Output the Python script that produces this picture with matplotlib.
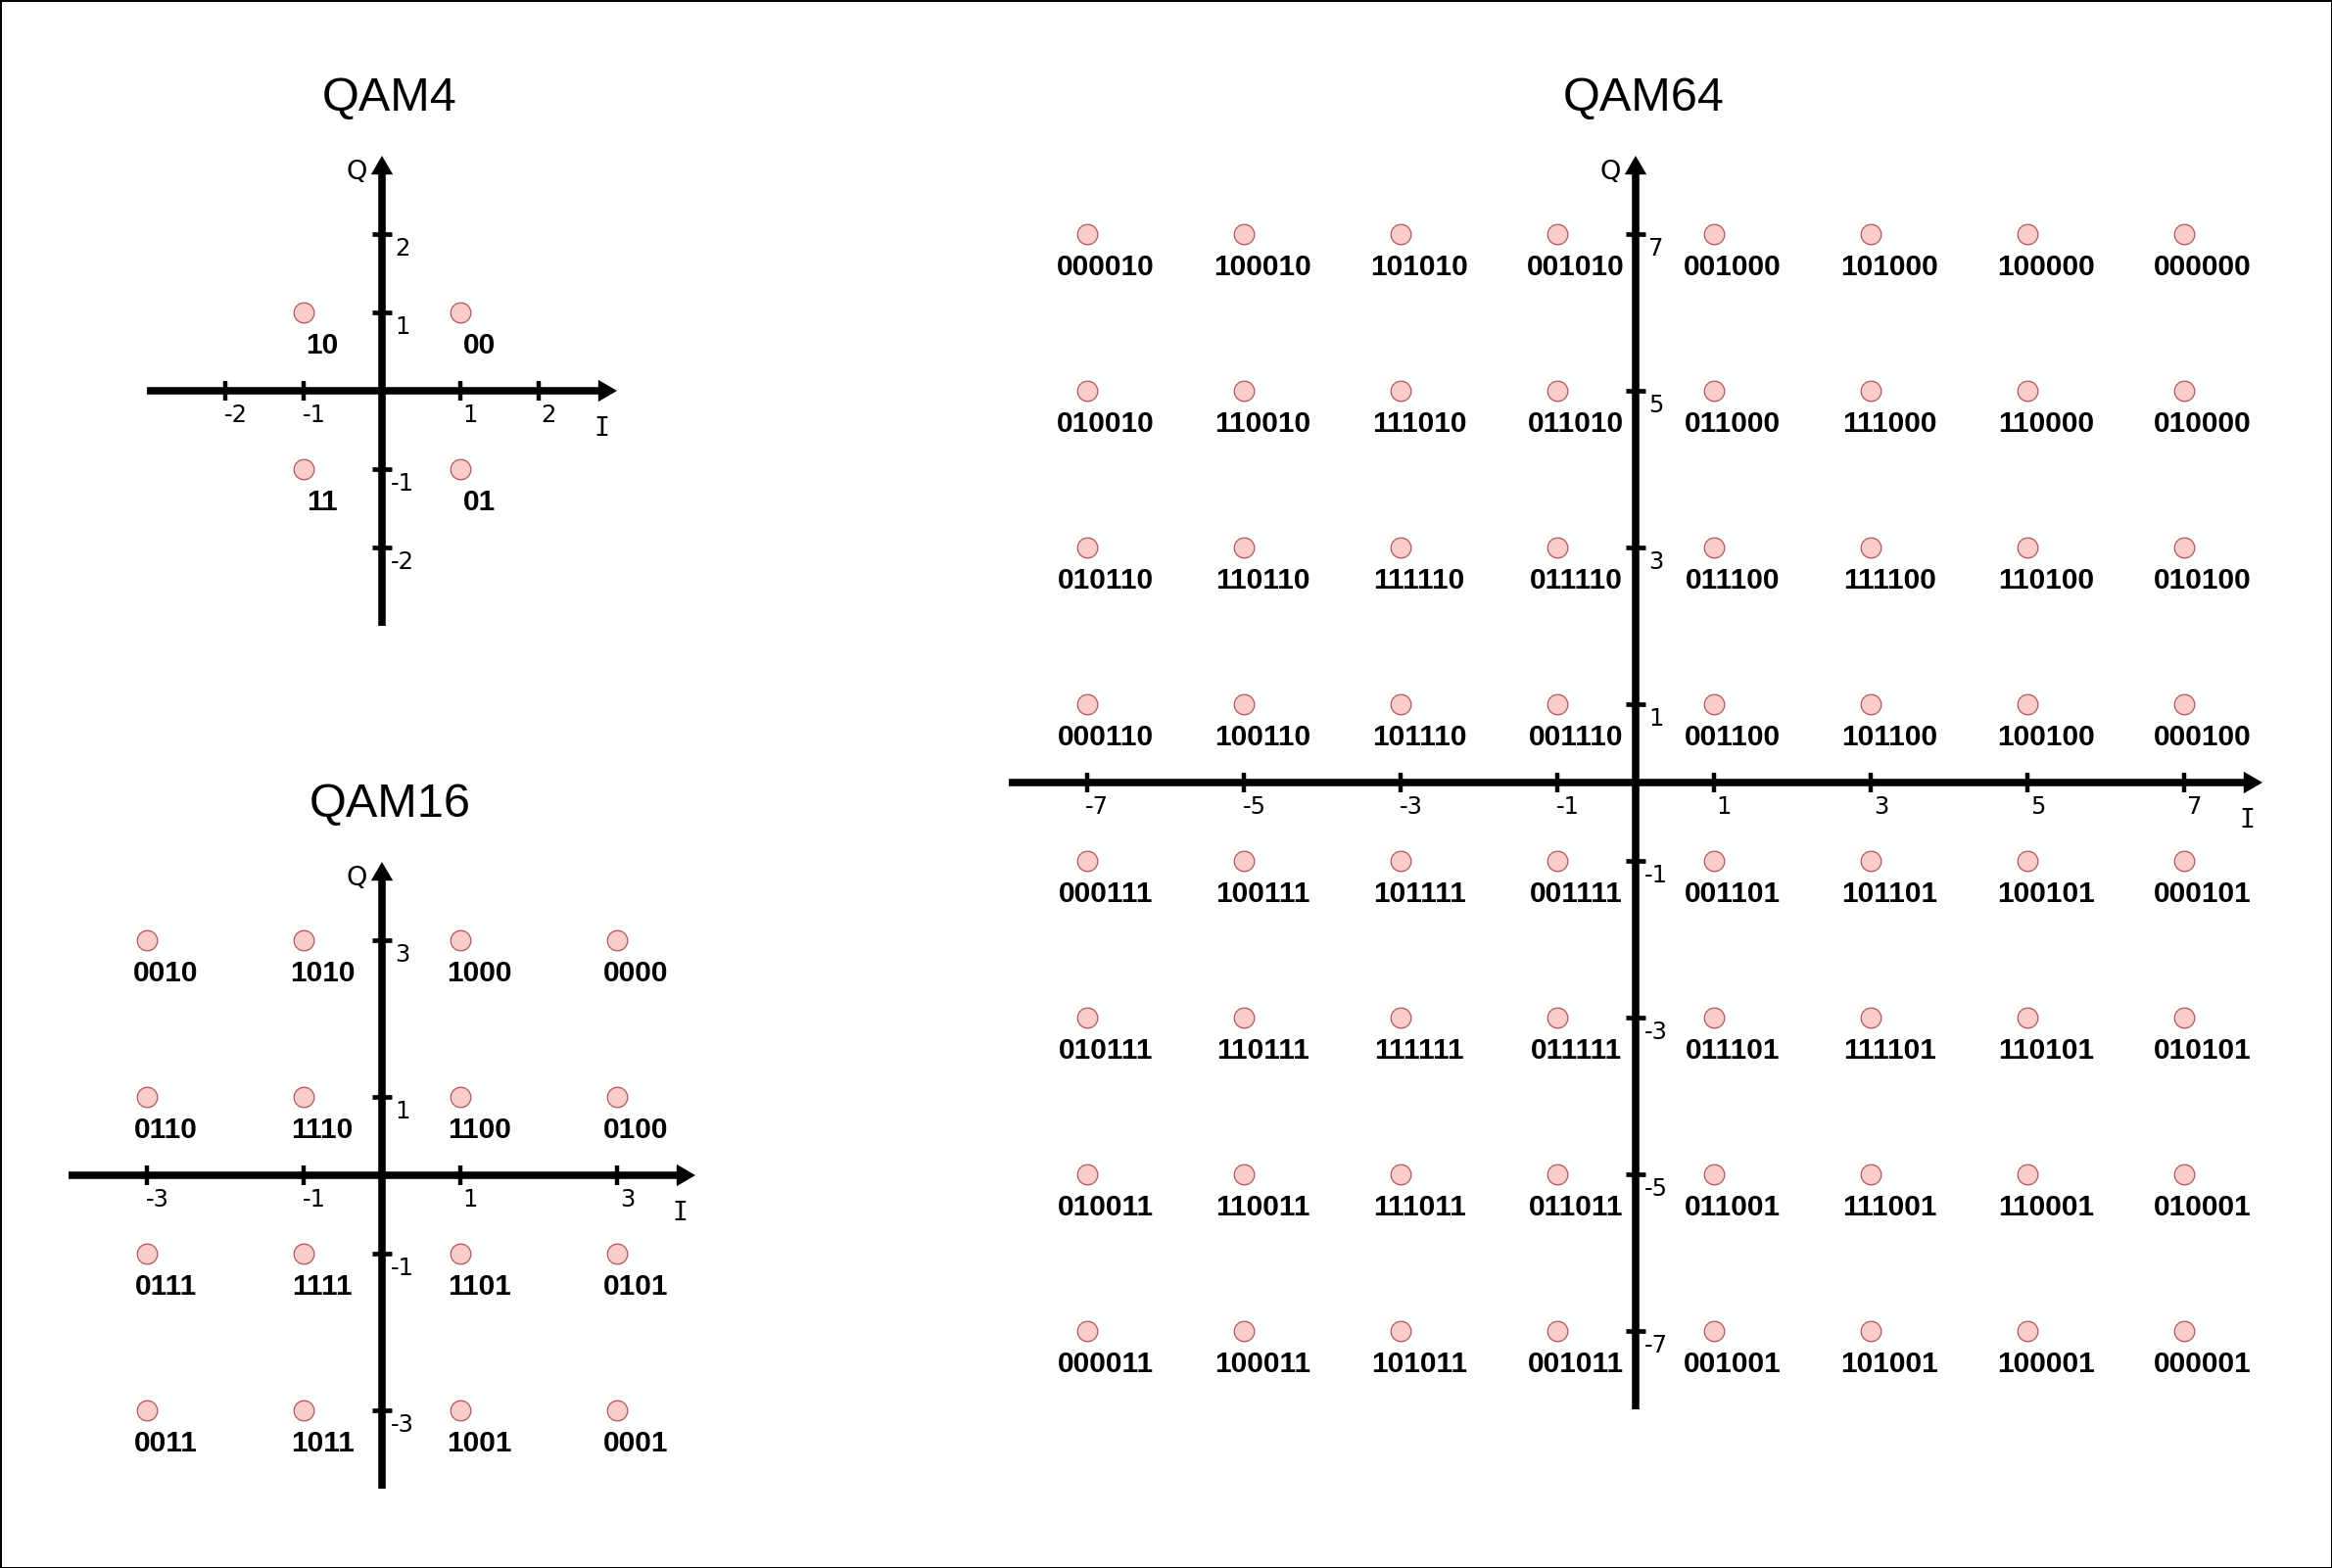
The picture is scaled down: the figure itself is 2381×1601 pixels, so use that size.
import matplotlib
matplotlib.use("Agg")
import matplotlib.pyplot as plt

# Constellation data: amplitude levels and Gray-code labels, rows listed top (max Q) to bottom
qam4_levels = [-1, 1]
qam4_ticks = [-2, -1, 1, 2]
qam4_labels = [
    ["10", "00"],
    ["11", "01"],
]

qam16_levels = [-3, -1, 1, 3]
qam16_ticks = [-3, -1, 1, 3]
qam16_labels = [
    ["0010", "1010", "1000", "0000"],
    ["0110", "1110", "1100", "0100"],
    ["0111", "1111", "1101", "0101"],
    ["0011", "1011", "1001", "0001"],
]

qam64_levels = [-7, -5, -3, -1, 1, 3, 5, 7]
qam64_ticks = [-7, -5, -3, -1, 1, 3, 5, 7]
qam64_labels = [
    ["000010", "100010", "101010", "001010", "001000", "101000", "100000", "000000"],
    ["010010", "110010", "111010", "011010", "011000", "111000", "110000", "010000"],
    ["010110", "110110", "111110", "011110", "011100", "111100", "110100", "010100"],
    ["000110", "100110", "101110", "001110", "001100", "101100", "100100", "000100"],
    ["000111", "100111", "101111", "001111", "001101", "101101", "100101", "000101"],
    ["010111", "110111", "111111", "011111", "011101", "111101", "110101", "010101"],
    ["010011", "110011", "111011", "011011", "011001", "111001", "110001", "010001"],
    ["000011", "100011", "101011", "001011", "001001", "101001", "100001", "000001"],
]

W, H = 2381, 1601
U = 80  # pixels per unit, same for every diagram

fig = plt.figure(figsize=(W / 100, H / 100), dpi=100, facecolor="white",
                 linewidth=2, edgecolor="black")

TITLE_FONT = "Liberation Sans"
LABEL_FONT = "Liberation Sans"
TICK_FONT = "DejaVu Sans"


def make_axes(ox, oy, L):
    # ox, oy: origin in pixels from top-left, L: half-extent of the axes in units
    ax = fig.add_axes([(ox - L * U) / W, (H - oy - L * U) / H, 2 * L * U / W, 2 * L * U / H])
    ax.set_xlim(-L, L)
    ax.set_ylim(-L, L)
    ax.axis("off")
    return ax


def draw_constellation(ax, title, L, levels, ticks, labels):
    # I and Q axes with arrow heads
    ax.arrow(-L, 0, 2 * L, 0, width=0.095, head_width=0.28, head_length=0.24,
             length_includes_head=True, fc="black", ec="none", zorder=2)
    ax.arrow(0, -L, 0, 2 * L, width=0.095, head_width=0.28, head_length=0.24,
             length_includes_head=True, fc="black", ec="none", zorder=2)

    # tick marks and their labels
    ax.vlines(ticks, -0.125, 0.125, colors="black", linewidth=3.2, zorder=2)
    ax.hlines(ticks, -0.13, 0.13, colors="black", linewidth=3.4, zorder=2)
    for t in ticks:
        ax.text(t + 0.13, -0.4, str(t), ha="center", va="baseline",
                fontsize=17.5, family=TICK_FONT)
        ax.text(0.26, t - 0.27, str(t), ha="center", va="baseline",
                fontsize=17.5, family=TICK_FONT)

    ax.text(-0.32, L - 0.3, "Q", ha="center", va="baseline", fontsize=19.5, family=TICK_FONT)
    ax.text(L - 0.19, -0.57, "I", ha="center", va="baseline", fontsize=19,
            family="DejaVu Sans Mono")

    # constellation points and their bit labels
    for q, row in zip(levels[::-1], labels):
        for i, lab in zip(levels, row):
            ax.plot(i, q, "o", ms=14.8, mfc="#f8cecc", mec="#b85450", mew=0.9,
                    zorder=3, clip_on=False)
            ax.text(i + 0.24, q - 0.52, lab, ha="center", va="baseline",
                    fontsize=21.5, fontweight="bold", family=LABEL_FONT)

    ax.text(0.1, L + 0.57, title, ha="center", va="baseline", fontsize=35,
            family=TITLE_FONT)


ax4 = make_axes(390, 399, 3)
draw_constellation(ax4, "QAM4", 3, qam4_levels, qam4_ticks, qam4_labels)

ax16 = make_axes(390, 1200, 4)
draw_constellation(ax16, "QAM16", 4, qam16_levels, qam16_ticks, qam16_labels)

ax64 = make_axes(1670, 799, 8)
draw_constellation(ax64, "QAM64", 8, qam64_levels, qam64_ticks, qam64_labels)

plt.savefig("out.png", dpi=100, edgecolor=fig.get_edgecolor())
